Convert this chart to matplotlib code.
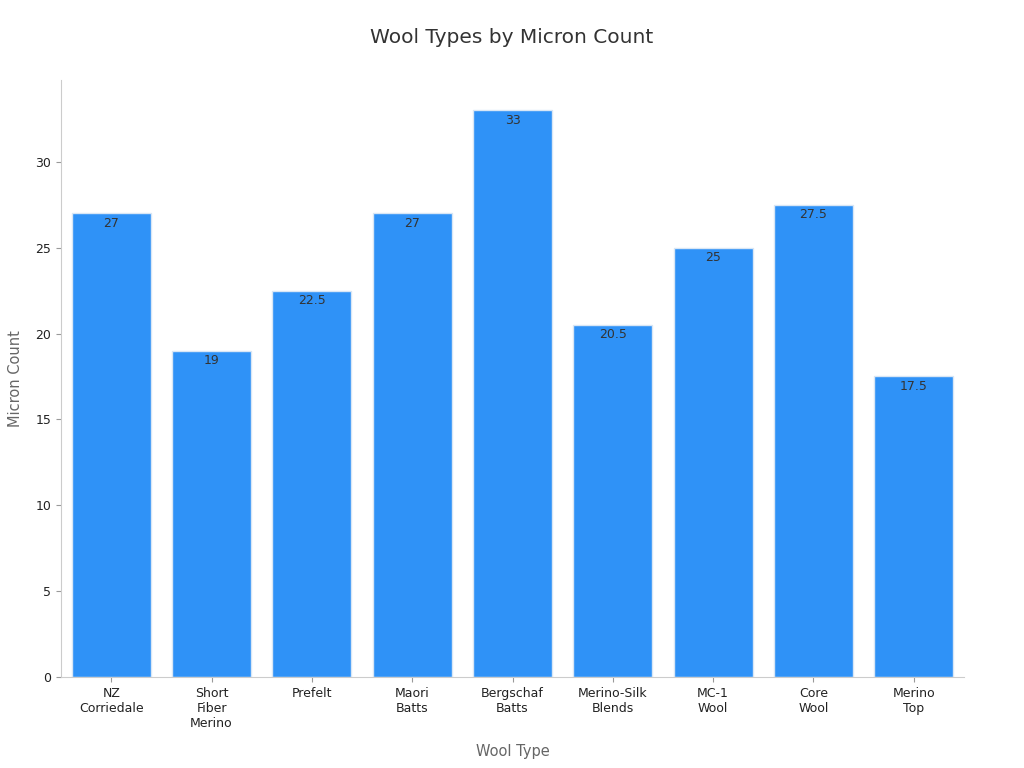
import matplotlib
matplotlib.use("Agg")
import matplotlib.pyplot as plt

categories = ["NZ\nCorriedale", "Short\nFiber\nMerino", "Prefelt", "Maori\nBatts", "Bergschaf\nBatts",
              "Merino-Silk\nBlends", "MC-1\nWool", "Core\nWool", "Merino\nTop"]
values = [27, 19, 22.5, 27, 33, 20.5, 25, 27.5, 17.5]
value_labels = ["27", "19", "22.5", "27", "33", "20.5", "25", "27.5", "17.5"]

fig = plt.figure(figsize=(10.24, 7.68), dpi=100)
ax = fig.add_axes([0.0596, 0.1185, 0.8818, 0.7775])
x = range(len(values))
ax.bar(x, values, width=0.79, color="#2f92f7", edgecolor="#d8e6f5", linewidth=1)
for xi, v, lab in zip(x, values, value_labels):
    ax.text(xi, v - 0.2, lab, ha="center", va="top", fontsize=9, color="#333333")
ax.set_xlim(-0.5, 8.5)
ax.set_ylim(0, 34.77)
ax.set_xticks(list(x))
ax.set_xticklabels(categories, fontsize=9, color="#222222")
ax.set_yticks([0, 5, 10, 15, 20, 25, 30])
ax.tick_params(axis="y", labelsize=9, colors="#222222")
ax.tick_params(axis="both", color="#999999")
for s in ["top", "right"]:
    ax.spines[s].set_visible(False)
for s in ["left", "bottom"]:
    ax.spines[s].set_color("#cccccc")
ax.set_xlabel("Wool Type", fontsize=10.5, color="#666666", labelpad=10)
ax.set_ylabel("Micron Count", fontsize=10.5, color="#666666", labelpad=9)
fig.suptitle("Wool Types by Micron Count", fontsize=14.5, color="#333333", y=0.963)
fig.savefig("out.png", dpi=100)
